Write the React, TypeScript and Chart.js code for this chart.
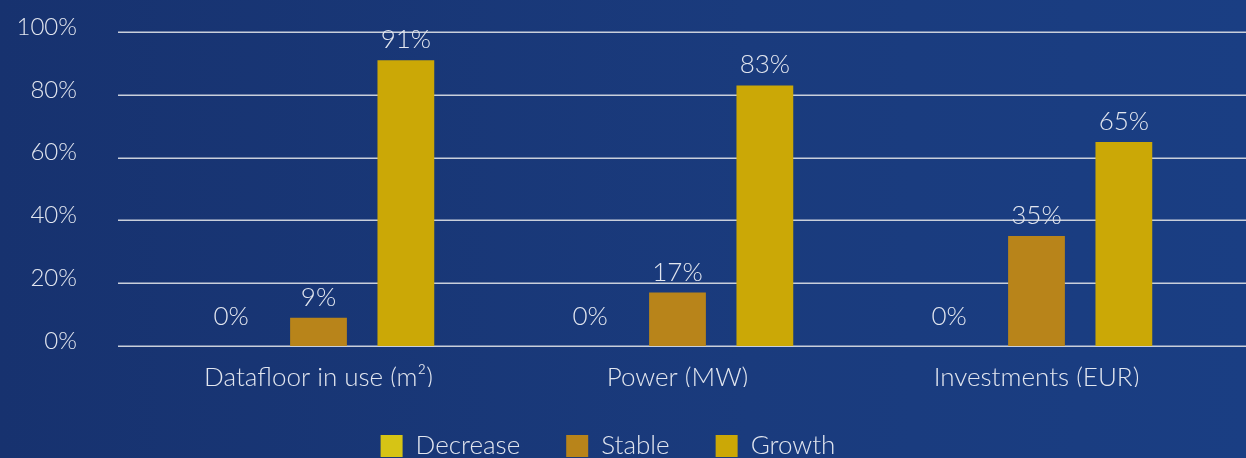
import React, { useEffect, useRef } from 'react';
import { Chart, registerables } from 'chart.js';

Chart.register(...registerables);

const categories = ['Datafloor in use (m²)', 'Power (MW)', 'Investments (EUR)'];
const seriesNames = ['Decrease', 'Stable', 'Growth'];
const decreaseValues = [0, 0, 0];
const stableValues = [9, 17, 35];
const growthValues = [91, 83, 65];
const yTickValues = [0, 20, 40, 60, 80, 100];
const seriesColors = ['#d6c415', '#b8841a', '#cba806'];

const FONT = 'Lato, "Open Sans", sans-serif';
const TEXT = '#e2e6ef';
const GRID = '#c9cfdb';

const W = 1246;
const H = 469;

const gridPlugin = {
  id: 'fullGrid',
  beforeDatasetsDraw(chart: any) {
    const { ctx, chartArea, scales } = chart;
    const y = scales.y;
    ctx.save();
    ctx.strokeStyle = GRID;
    ctx.lineWidth = 1.5;
    yTickValues.forEach((v) => {
      const py = Math.round(y.getPixelForValue(v)) + 0.25;
      ctx.beginPath();
      ctx.moveTo(chartArea.left - 21, py);
      ctx.lineTo(chart.width, py);
      ctx.stroke();
    });
    ctx.restore();
  },
};

const valueLabelPlugin = {
  id: 'valueLabels',
  afterDatasetsDraw(chart: any) {
    const { ctx } = chart;
    ctx.save();
    ctx.font = `300 26px ${FONT}`;
    ctx.fillStyle = TEXT;
    ctx.textAlign = 'center';
    ctx.textBaseline = 'alphabetic';
    chart.data.datasets.forEach((ds: any, di: number) => {
      const meta = chart.getDatasetMeta(di);
      meta.data.forEach((bar: any, i: number) => {
        const v = ds.data[i];
        const off = v === 0 ? 21 : 12;
        ctx.fillText(`${v}%`, bar.x, bar.y - off);
      });
    });
    ctx.restore();
  },
};

export default function App() {
  const ref = useRef<HTMLCanvasElement | null>(null);

  useEffect(() => {
    if (!ref.current) return;
    const chart = new Chart(ref.current, {
      type: 'bar',
      data: {
        labels: categories,
        datasets: [
          { label: seriesNames[0], data: decreaseValues, backgroundColor: seriesColors[0] },
          { label: seriesNames[1], data: stableValues, backgroundColor: seriesColors[1] },
          { label: seriesNames[2], data: growthValues, backgroundColor: seriesColors[2] },
        ],
      },
      options: {
        responsive: false,
        animation: false,
        devicePixelRatio: 1,
        datasets: {
          bar: { categoryPercentage: 0.73, barPercentage: 0.65 },
        },
        layout: { padding: { top: 32, right: 30, left: 0, bottom: 0 } },
        plugins: {
          tooltip: { enabled: false },
          legend: {
            position: 'bottom',
            labels: {
              color: TEXT,
              font: { family: FONT, size: 26, weight: '300' },
              boxWidth: 22,
              boxHeight: 22,
              padding: 46,
            },
          },
        },
        scales: {
          x: {
            grid: { display: false, drawTicks: false },
            border: { display: false },
            ticks: {
              color: TEXT,
              font: { family: FONT, size: 26, weight: '300' },
              padding: 16,
              maxRotation: 0,
              autoSkip: false,
            },
            afterFit: (s: any) => {
              s.height = 41;
              s.paddingLeft = 0;
              s.paddingRight = 0;
            },
          },
          y: {
            min: 0,
            max: 100,
            grid: { display: false, drawTicks: false },
            border: { display: false },
            ticks: {
              stepSize: 20,
              color: TEXT,
              font: { family: FONT, size: 24, weight: '300' },
              padding: 62,
              labelOffset: -5,
              callback: (v: any) => `${v}%`,
            },
            afterFit: (s: any) => {
              s.width = 139;
              s.paddingTop = 0;
              s.paddingBottom = 0;
            },
          },
        },
      },
      plugins: [gridPlugin, valueLabelPlugin],
    } as any);
    return () => chart.destroy();
  }, []);

  return (
    <div
      style={{
        position: 'fixed',
        left: 0,
        top: 0,
        width: W,
        height: 458,
        overflow: 'hidden',
        background: 'linear-gradient(90deg, #17326f 0%, #1a3b7d 60%, #1a3e83 100%)',
      }}
    >
      <canvas ref={ref} width={W} height={H} style={{ display: 'block' }} />
    </div>
  );
}
